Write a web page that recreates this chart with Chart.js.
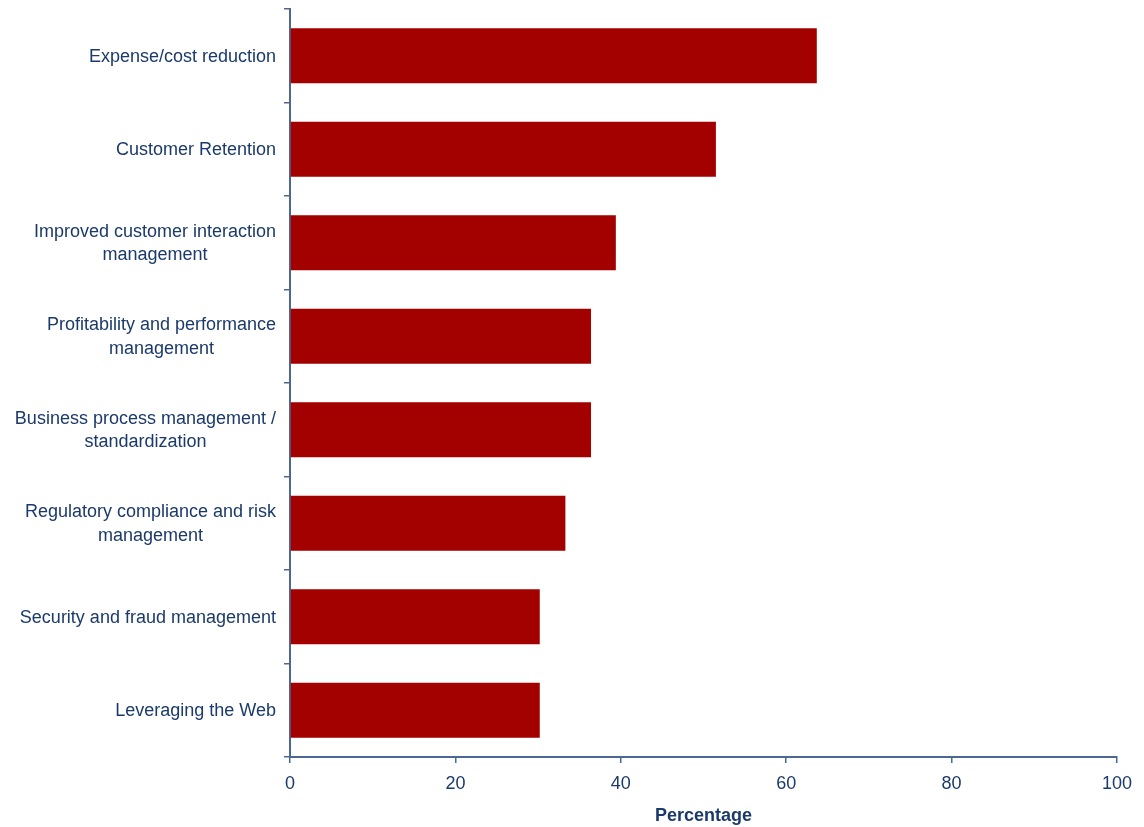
<!DOCTYPE html>
<html>
<head>
<meta charset="utf-8">
<script src="https://cdn.jsdelivr.net/npm/chart.js@4/dist/chart.umd.min.js"></script>
<style>
  html, body { margin: 0; padding: 0; background: #ffffff; }
  #wrap { width: 1144px; height: 827px; }
</style>
</head>
<body>
<div id="wrap"><canvas id="c" width="1144" height="827"></canvas></div>
<script>
// Business drivers, each label split into its display lines
const categories = [
  ['Expense/cost reduction'],
  ['Customer Retention'],
  ['Improved customer interaction', 'management'],
  ['Profitability and performance', 'management'],
  ['Business process management /', 'standardization'],
  ['Regulatory compliance and risk', 'management'],
  ['Security and fraud management'],
  ['Leveraging the Web']
];
const percentages = [63.7, 51.5, 39.4, 36.4, 36.4, 33.3, 30.2, 30.2];
const xTicks = [0, 20, 40, 60, 80, 100];

const TEXT = '#1b3a6b';
const AXIS = '#4a6890';
const BAR = '#a30000';
const FONT = '"Liberation Sans", Arial, Helvetica, sans-serif';

// Category labels: block right-aligned to the axis, lines centred within the block
const categoryLabels = {
  id: 'categoryLabels',
  afterDraw(chart) {
    const ctx = chart.ctx;
    const y = chart.scales.y;
    const right = chart.chartArea.left - 14;
    const lineH = 23.5;
    ctx.save();
    ctx.font = '18px ' + FONT;
    ctx.fillStyle = TEXT;
    ctx.textAlign = 'center';
    ctx.textBaseline = 'middle';
    chart.data.labels.forEach((lines, i) => {
      const cy = y.getPixelForTick(i) + 1;
      const w = Math.max(...lines.map(l => ctx.measureText(l).width));
      const cx = right - w / 2;
      const y0 = cy - (lines.length - 1) * lineH / 2;
      lines.forEach((l, k) => ctx.fillText(l, cx, y0 + k * lineH));
    });
    ctx.restore();
  }
};

new Chart(document.getElementById('c'), {
  type: 'bar',
  data: {
    labels: categories,
    datasets: [{
      data: percentages,
      backgroundColor: BAR,
      borderWidth: 0,
      barPercentage: 0.59,
      categoryPercentage: 1
    }]
  },
  options: {
    indexAxis: 'y',
    responsive: false,
    animation: false,
    devicePixelRatio: 1,
    layout: { padding: { top: 9, right: 27, left: 0, bottom: 0 } },
    plugins: { legend: { display: false }, tooltip: { enabled: false } },
    scales: {
      x: {
        min: 0,
        max: 100,
        afterBuildTicks(scale) { scale.ticks = xTicks.map(v => ({ value: v })); },
        afterFit(scale) { scale.height = 70; },
        border: { display: true, color: AXIS, width: 2 },
        grid: { drawOnChartArea: false, drawTicks: true, tickLength: 6, color: AXIS, lineWidth: 1.5 },
        ticks: { color: TEXT, font: { family: FONT, size: 18 }, padding: 10, maxRotation: 0 },
        title: {
          display: true,
          text: 'Percentage',
          color: TEXT,
          font: { family: FONT, size: 18, weight: 'bold' },
          padding: { top: 4, bottom: 0 }
        }
      },
      y: {
        afterFit(scale) { scale.width = 290; },
        border: { display: true, color: AXIS, width: 2 },
        grid: { offset: true, drawOnChartArea: false, drawTicks: true, tickLength: 6, color: AXIS, lineWidth: 1.5 },
        ticks: { display: false }
      }
    }
  },
  plugins: [categoryLabels]
});
</script>
</body>
</html>
